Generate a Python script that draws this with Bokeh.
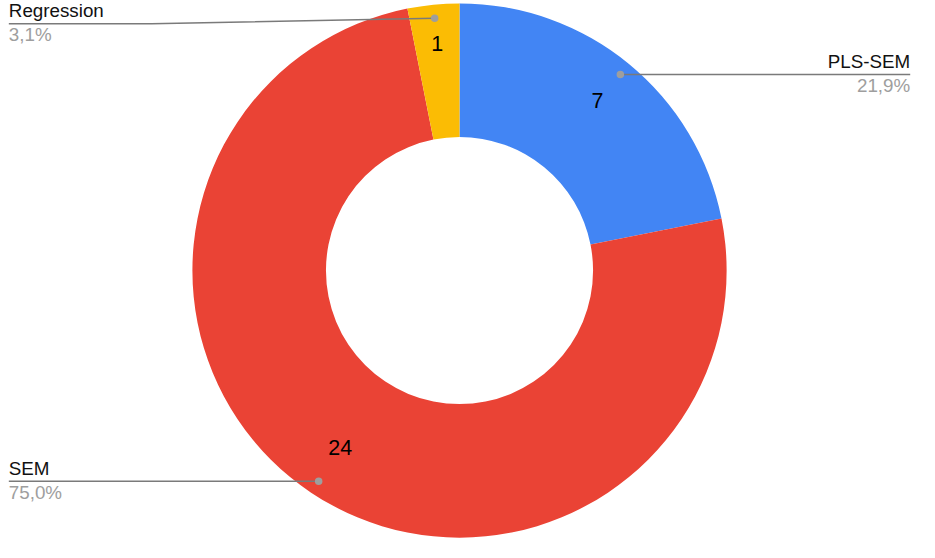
import math
from bokeh.plotting import figure
from bokeh.models import ColumnDataSource, Range1d
from bokeh.core.properties import value
from bokeh.embed import file_html
from bokeh.resources import INLINE

# ---- data ----
categories = ["PLS-SEM", "SEM", "Regression"]
counts = [7, 24, 1]
percent_labels = ["21,9%", "75,0%", "3,1%"]
colors = ["#4285F4", "#EA4335", "#FBBC04"]

# ---- layout (reference pixel space, y downward) ----
REF_W, REF_H = 935, 558
W, H = 919, 542
s = H / REF_H
half = (W / s) / 2
CX, CY = 467, 278
R_OUT, R_IN = 275, 137.5
num_radius = [224, 221, 233]
dot_radius = 261
label_side = ["right", "left", "left"]
label_line_y = [None, None, 24]
FONT = value("Liberation Sans")
BASE_FIX = 7.7  # svg baseline correction (reference px)


def Y(yref):
    return REF_H - yref


p = figure(width=W, height=H, output_backend="svg", toolbar_location=None,
           x_range=Range1d(467.5 - half, 467.5 + half), y_range=Range1d(0, REF_H),
           min_border=0)
p.axis.visible = False
p.grid.visible = False
p.outline_line_color = None
p.background_fill_color = "white"

total = sum(counts)
starts, ends, mids = [], [], []
cum = 0
for c in counts:
    f0 = cum / total
    cum += c
    f1 = cum / total
    starts.append(math.pi / 2 - 2 * math.pi * f1)
    ends.append(math.pi / 2 - 2 * math.pi * f0)
    mids.append(2 * math.pi * (f0 + f1) / 2)  # clockwise from top

src = ColumnDataSource(dict(x=[CX] * 3, y=[Y(CY)] * 3, s=starts, e=ends, c=colors))
p.annular_wedge(x="x", y="y", inner_radius=R_IN, outer_radius=R_OUT,
                start_angle="s", end_angle="e", direction="anticlock",
                fill_color="c", line_color=None, source=src)

# value labels inside slices
nx = [CX + r * math.sin(a) for r, a in zip(num_radius, mids)]
ny = [Y(CY - r * math.cos(a) - 2) for r, a in zip(num_radius, mids)]
p.text(x=nx, y=ny, text=[str(c) for c in counts], text_align="center",
       text_baseline="middle", text_font=FONT, text_font_size="21.5px",
       text_color="black")

# leader lines, dots, labels
for i, name in enumerate(categories):
    a = mids[i]
    dx = CX + dot_radius * math.sin(a)
    dy = CY - dot_radius * math.cos(a)
    ly = label_line_y[i] if label_line_y[i] is not None else dy
    if label_side[i] == "right":
        xs = [dx, 931]
        ys = [dy, ly]
        tx, align = 931, "right"
    else:
        if ly != dy:
            xs = [dx, 150, 3]
            ys = [dy, ly, ly]
        else:
            xs = [dx, 3]
            ys = [dy, ly]
        tx, align = 3, "left"
    p.line(x=xs, y=[Y(v) for v in ys], line_color="#7a7a7a", line_width=1.5)
    p.scatter(x=[dx], y=[Y(dy)], size=7.5, fill_color="#9e9e9e", line_color=None)
    p.text(x=[tx], y=[Y(ly - 5.5 - BASE_FIX)], text=[name], text_align=align,
           text_baseline="alphabetic", text_font=FONT, text_font_size="18.8px",
           text_color="#111111")
    p.text(x=[tx], y=[Y(ly + 19 - BASE_FIX)], text=[percent_labels[i]], text_align=align,
           text_baseline="alphabetic", text_font=FONT, text_font_size="18.8px",
           text_color="#9e9e9e")

open("out.html", "w").write(file_html(p, INLINE))
